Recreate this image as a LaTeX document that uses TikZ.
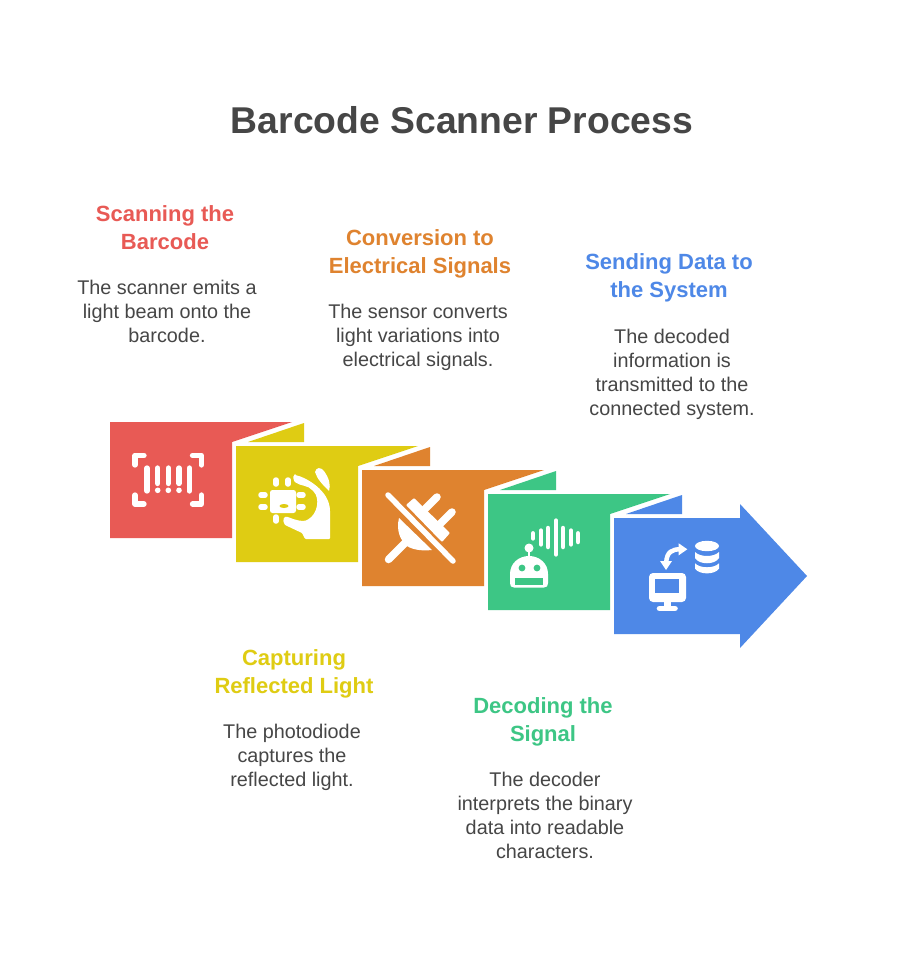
\documentclass[tikz,border=0pt]{standalone}
\usepackage{fontspec}
\setmainfont{Liberation Sans}
\definecolor{cred}{HTML}{E85A55}
\definecolor{cyel}{HTML}{DFCC13}
\definecolor{cora}{HTML}{DF832F}
\definecolor{cgre}{HTML}{3DC685}
\definecolor{cblu}{HTML}{4E88E7}
\definecolor{ctxt}{HTML}{464646}
\tikzset{
  headtext/.style={inner sep=0pt,align=center,font=\bfseries\fontsize{22}{28}\selectfont},
  bodytext/.style={inner sep=0pt,align=center,text=ctxt,font=\fontsize{19.8}{24}\selectfont},
  ico/.style={line width=#1,line cap=round,draw=white},
}
\begin{document}
\begin{tikzpicture}[x=1pt,y=-1pt]
\useasboundingbox (0,0) rectangle (900,960);
\fill[white] (0,0) rectangle (900,960);
\node[inner sep=0pt,text=ctxt,font=\bfseries\fontsize{37.3}{44}\selectfont] (title) at (462,120) {Barcode Scanner Process};

% ribbon panels
\fill[cred] (110,422) -- (292,422) -- (232,442) -- (232,538) -- (110,538) -- cycle;
\fill[cyel] (304,423) -- (248,442) -- (304,442) -- cycle;
\fill[cyel] (236,446) -- (418,446) -- (358,466) -- (358,562) -- (236,562) -- cycle;
\fill[cora] (430,447) -- (374,466) -- (430,466) -- cycle;
\fill[cora] (362,470) -- (544,470) -- (484,490) -- (484,586) -- (362,586) -- cycle;
\fill[cgre] (556,471) -- (500,490) -- (556,490) -- cycle;
\fill[cgre] (488,494) -- (670,494) -- (610,514) -- (610,610) -- (488,610) -- cycle;
\fill[cblu] (682,495) -- (626,514) -- (682,514) -- cycle;
\fill[cblu] (614,518) -- (740,518) -- (740,504) -- (807,576) -- (740,648) -- (740,634) -- (614,634) -- cycle;

% icon 1: barcode
\draw[ico=5.3pt,line join=round] (135,465) -- (135,455.4) -- (144,455.4);
\draw[ico=5.3pt,line join=round] (192.5,455.4) -- (201.3,455.4) -- (201.3,465);
\draw[ico=5.3pt,line join=round] (135,495) -- (135,504) -- (144,504);
\draw[ico=5.3pt,line join=round] (192.5,504) -- (201.3,504) -- (201.3,495);
\foreach \x in {147,189.3} \draw[ico=5.3pt] (\x,468) -- (\x,491);
\foreach \x in {157.7,168.3,179} {
  \draw[ico=5.3pt] (\x,468) -- (\x,483.5);
  \fill[white] (\x,490.3) circle (2.8);
}

% icon 2: chip and hand
\fill[white,rounded corners=2.5pt] (270,490) rectangle (296,513);
\fill[cyel] (284,506) ellipse (4.5 and 2);
\foreach \x in {276,288} \draw[ico=5.5pt] (\x,480) -- (\x,484);
\draw[ico=5.5pt] (276,517) -- (276,521);
\foreach \y in {495,507} {
  \draw[ico=5.5pt] (261,\y) -- (265,\y);
  \draw[ico=5.5pt] (299,\y) -- (303,\y);
}
\fill[white,rounded corners=1pt] (295,475) .. controls (305,477) and (330,490) .. (330,512) -- (330,539) -- (305,539) -- (302,533) -- (285,525) .. controls (282,520) and (284,516) .. (288,517) .. controls (295,520) and (303,522) .. (307,520) .. controls (318,514) and (320,498) .. (313,491) .. controls (308,485) and (300,486) .. (295,482) .. controls (293,480) and (293,476) .. (295,475) -- cycle;
\fill[white] (315,472) .. controls (316,467) and (321,467) .. (324,471) .. controls (329,478) and (331,485) .. (329,491) .. controls (323,485) and (317,479) .. (315,472) -- cycle;

% icon 3: crossed plug
\fill[white,rounded corners=1pt] (406,505) -- (414,498) -- (450,533) -- (442,542) -- cycle;
\fill[white] (399,518) -- (432,550) .. controls (422,551) and (413,550) .. (407,546) .. controls (400,540) and (396,530) .. (399,518) -- cycle;
\draw[ico=7.5pt] (437,497) -- (425,509);
\draw[ico=7.5pt] (452,512) -- (440,524);
\draw[ico=7.5pt] (388.5,559.5) -- (406,542);
\draw[ico=5.5pt] (388,495) -- (453,561);

% icon 4: robot and sound
\fill[white] (510,583) -- (510,574) .. controls (510,563) and (519,556) .. (529,556) .. controls (539,556) and (548,563) .. (548,574) -- (548,583) .. controls (548,586) and (547,587.5) .. (544,587.5) -- (514,587.5) .. controls (511,587.5) and (510,586) .. (510,583) -- cycle;
\fill[cgre] (522,568) circle (3.4) (537,568) circle (3.4);
\fill[cgre] (515,578) rectangle (543,585);
\fill[white] (529,548) circle (4.5);
\draw[ico=2pt] (529,550) -- (529,557);
\draw[ico=4.5pt] (533,533.3) -- (533,538.4);
\draw[ico=4.5pt] (541,530.6) -- (541,544.4);
\draw[ico=4.5pt] (548,528) -- (548,547);
\draw[ico=4.5pt] (556,520.6) -- (556,554.4);
\draw[ico=4.5pt] (563,528) -- (563,547);
\draw[ico=4.5pt] (571,530.6) -- (571,544.4);
\draw[ico=4.5pt] (578,533.3) -- (578,542);

% icon 5: monitor, arrow, database
\fill[white,rounded corners=4pt] (649,573) rectangle (686,602);
\fill[cblu] (655,579.3) rectangle (679.3,593.3);
\fill[white] (664,601) rectangle (671,607);
\draw[ico=5.6pt] (659.5,608.5) -- (675,608.5);
\draw[white,line width=4.5pt] (680,549.3) .. controls (672,549.3) and (667,552) .. (666.2,562);
\fill[white] (687.3,549.3) -- (678.7,543.3) -- (678.7,555.3) -- cycle;
\fill[white] (666,570) -- (660,561) -- (672,561) -- cycle;
\fill[white] (707,546) ellipse (12 and 5.2);
\fill[white] (695,552) .. controls (700,557.3) and (714,557.3) .. (719,552) -- (719,558) .. controls (715,565) and (699,565) .. (695,558) -- cycle;
\fill[white] (695,563.3) .. controls (700,568.6) and (714,568.6) .. (719,563.3) -- (719,568.5) .. controls (715,575) and (699,575) .. (695,568.5) -- cycle;

% labels
\node[headtext,text=cred] (h1) at (165,228) {Scanning the\\Barcode};
\node[bodytext] (b1) at (167,311.5) {The scanner emits a\\light beam onto the\\barcode.};
\node[headtext,text=cora] (h3) at (420,254) {Conversion to\\Electrical Signals};
\node[bodytext] (b3) at (418,337.5) {The sensor converts\\light variations into\\electrical signals.};
\node[headtext,text=cblu] (h5) at (669,278) {Sending Data to\\the System};
\node[bodytext] (b5) at (672,374) {The decoded\\information is\\transmitted to the\\connected system.};
\node[headtext,text=cyel] (h2) at (294,674) {Capturing\\Reflected Light};
\node[bodytext] (b2) at (292,757) {The photodiode\\captures the\\reflected light.};
\node[headtext,text=cgre] (h4) at (543,722) {Decoding the\\Signal};
\node[bodytext] (b4) at (545,815) {The decoder\\interprets the binary\\data into readable\\characters.};
\end{tikzpicture}
\end{document}
